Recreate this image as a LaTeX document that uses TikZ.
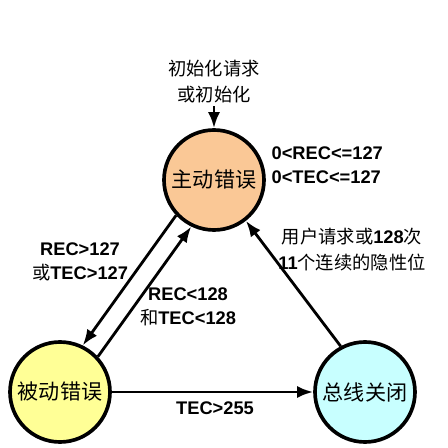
\documentclass[tikz,border=0pt]{standalone}
\usepackage{fontspec}
\setmainfont{Liberation Sans}
\newfontfamily\cjk{Noto Sans CJK SC}
\usetikzlibrary{arrows.meta}
\definecolor{actfill}{RGB}{250,200,150}
\definecolor{pasfill}{RGB}{255,255,150}
\definecolor{offfill}{RGB}{200,255,255}
\newcommand{\zh}[1]{{\cjk\mdseries #1}}
\newcommand{\lat}[1]{{\normalfont\bfseries #1}}

\begin{document}
\begin{tikzpicture}[line width=2pt, >={Latex[length=4mm,width=3mm]},
  state/.style={circle, draw, line width=2.6pt, minimum size=2.5cm, inner sep=0pt,
    font=\cjk\fontsize{15}{18}\selectfont},
  cond/.style={font=\bfseries\fontsize{13}{17}\selectfont, align=center, inner sep=1pt},
  zhlabel/.style={font=\cjk\fontsize{13}{18}\selectfont, align=center, inner sep=1pt}]
\useasboundingbox (0,0) rectangle (11.2,11.2);
% error states
\node[state, fill=actfill] (act) at (5.35,6.7) {主动错误};
\node[state, fill=pasfill] (pas) at (1.5,1.4) {被动错误};
\node[state, fill=offfill] (off) at (9.125,1.4) {总线关闭};
% reset entry
\node[zhlabel, font=\cjk\fontsize{13}{19}\selectfont] (init) at (5.35,9.16) {初始化请求\\或初始化};
\draw[->] (init) -- (act);
\node[cond, align=left, anchor=west] (actcond) at (6.72,7.06) {0<REC<=127\\0<TEC<=127};
% active <-> passive
\draw[->] (act.223) -- (pas.64);
\draw[->] (pas.43) -- (act.244);
\node[cond] (topas) at (2.0,4.66) {REC>127\\\zh{或}TEC>127};
\node[cond] (toact) at (4.7,3.54) {REC<128\\\zh{和}TEC<128};
% bus off
\draw[->] (pas) -- (off);
\node[cond] (tooff) at (5.375,1.0) {TEC>255};
\draw[->] (off.118) -- (act.308);
\node[zhlabel] (recover) at (8.8,4.96) {用户请求或\lat{128}次\\\lat{11}个连续的隐性位};
\end{tikzpicture}
\end{document}
